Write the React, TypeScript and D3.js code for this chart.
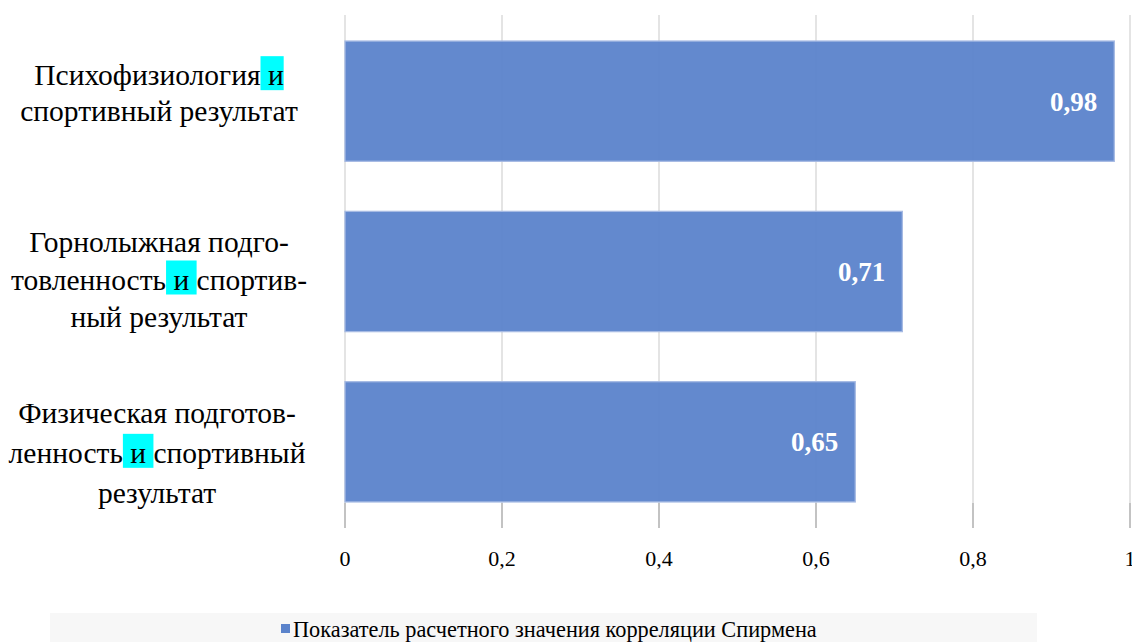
import React, { useEffect, useRef } from "react";
import * as d3 from "d3";

// Categories (top to bottom), each split into drawn lines; the highlighted
// conjunction is marked with [ ... ] inside a line.
const categories: string[][] = [
  ["Психофизиология[ и]", "спортивный результат"],
  ["Горнолыжная подго-", "товленность[ и ]спортив-", "ный результат"],
  ["Физическая подготов-", "ленность[ и ]спортивный", "результат"],
];
const values: number[] = [0.98, 0.71, 0.65];
const valueLabels: string[] = ["0,98", "0,71", "0,65"];
const xTicks: number[] = [0, 0.2, 0.4, 0.6, 0.8, 1];
const xTickLabels: string[] = ["0", "0,2", "0,4", "0,6", "0,8", "1"];
const seriesName = "Показатель расчетного значения корреляции Спирмена";

const W = 1132;
const H = 642;
const FONT = "'Liberation Serif', 'Times New Roman', serif";

// label block layout: vertical shift from band centre, line step, centre x
const labelShift = [-8, 8, 11];
const labelStep = [36, 37.5, 40];
const labelCx = [159, 159, 157];

export default function App() {
  const ref = useRef<SVGSVGElement | null>(null);

  useEffect(() => {
    const svg = d3.select(ref.current);
    svg.selectAll("*").remove();

    const left = 345;
    const right = 1130;
    const top = 16;
    const bottom = 527;

    const x = d3.scaleLinear().domain([0, 1]).range([left, right]);
    const y = d3
      .scaleBand<number>()
      .domain(d3.range(categories.length))
      .range([top, bottom])
      .paddingInner(0.294)
      .paddingOuter(0.147);

    // vertical gridlines
    svg
      .append("g")
      .selectAll("line")
      .data(xTicks)
      .join("line")
      .attr("x1", (d) => x(d))
      .attr("x2", (d) => x(d))
      .attr("y1", 15)
      .attr("y2", 503)
      .attr("stroke", "#d6d6d6")
      .attr("stroke-width", 1.3);

    // tick marks below the bars
    svg
      .append("g")
      .selectAll("line")
      .data(xTicks)
      .join("line")
      .attr("x1", (d) => x(d))
      .attr("x2", (d) => x(d))
      .attr("y1", 503)
      .attr("y2", 528)
      .attr("stroke", "#a3a3a3")
      .attr("stroke-width", 1.3);

    // bars
    svg
      .append("g")
      .selectAll("rect")
      .data(values)
      .join("rect")
      .attr("x", x(0))
      .attr("y", (_, i) => y(i)!)
      .attr("width", (d) => x(d) - x(0))
      .attr("height", y.bandwidth())
      .attr("fill", "#5b83cb")
      .attr("fill-opacity", 0.95)
      .attr("stroke", "#a6bae3")
      .attr("stroke-width", 1.3);

    // value labels inside the bars
    svg
      .append("g")
      .selectAll("text")
      .data(values)
      .join("text")
      .attr("x", (d) => x(d) - 17)
      .attr("y", (_, i) => y(i)! + y.bandwidth() / 2)
      .attr("dy", "0.35em")
      .attr("text-anchor", "end")
      .attr("fill", "#ffffff")
      .attr("font-family", FONT)
      .attr("font-weight", "bold")
      .attr("font-size", 27)
      .text((_, i) => valueLabels[i]);

    // x tick labels
    svg
      .append("g")
      .selectAll("text")
      .data(xTicks)
      .join("text")
      .attr("x", (d) => x(d))
      .attr("y", 566)
      .attr("text-anchor", "middle")
      .attr("fill", "#000")
      .attr("font-family", FONT)
      .attr("font-size", 22)
      .text((_, i) => xTickLabels[i]);

    // category labels with highlighted conjunction
    const labelG = svg.append("g");
    categories.forEach((lines, ci) => {
      const cy = y(ci)! + y.bandwidth() / 2 + labelShift[ci];
      const step = labelStep[ci];
      const y0 = cy - ((lines.length - 1) * step) / 2;
      lines.forEach((raw, li) => {
        const s = raw.indexOf("[");
        const e = raw.indexOf("]");
        const plain = raw.replace("[", "").replace("]", "");
        const ly = y0 + li * step;
        const hl = labelG.append("g");
        const t = labelG
          .append("text")
          .attr("x", labelCx[ci])
          .attr("y", ly)
          .attr("dy", "0.35em")
          .attr("text-anchor", "middle")
          .attr("fill", "#000")
          .attr("font-family", FONT)
          .attr("font-size", 29.5)
          .style("white-space", "pre")
          .text(plain);
        if (s >= 0 && e > s) {
          const node = t.node() as SVGTextElement;
          const start = node.getStartPositionOfChar(s).x;
          const end = node.getEndPositionOfChar(e - 2).x;
          hl.append("rect")
            .attr("x", start)
            .attr("y", ly - 19)
            .attr("width", end - start)
            .attr("height", 34)
            .attr("fill", "#00ffff");
        }
      });
    });

    // legend
    const lg = svg.append("g");
    lg.append("rect")
      .attr("x", 50)
      .attr("y", 613)
      .attr("width", 987)
      .attr("height", 29)
      .attr("fill", "#f7f7f7");
    lg.append("rect")
      .attr("x", 281)
      .attr("y", 624)
      .attr("width", 9)
      .attr("height", 9)
      .attr("fill", "#5b83cb");
    lg.append("text")
      .attr("x", 293)
      .attr("y", 629)
      .attr("dy", "0.35em")
      .attr("fill", "#000")
      .attr("font-family", FONT)
      .attr("font-size", 22.3)
      .text(seriesName);
  }, []);

  return (
    <svg
      ref={ref}
      width={W}
      height={H}
      style={{ position: "absolute", left: 0, top: 0, background: "#fff" }}
    />
  );
}
